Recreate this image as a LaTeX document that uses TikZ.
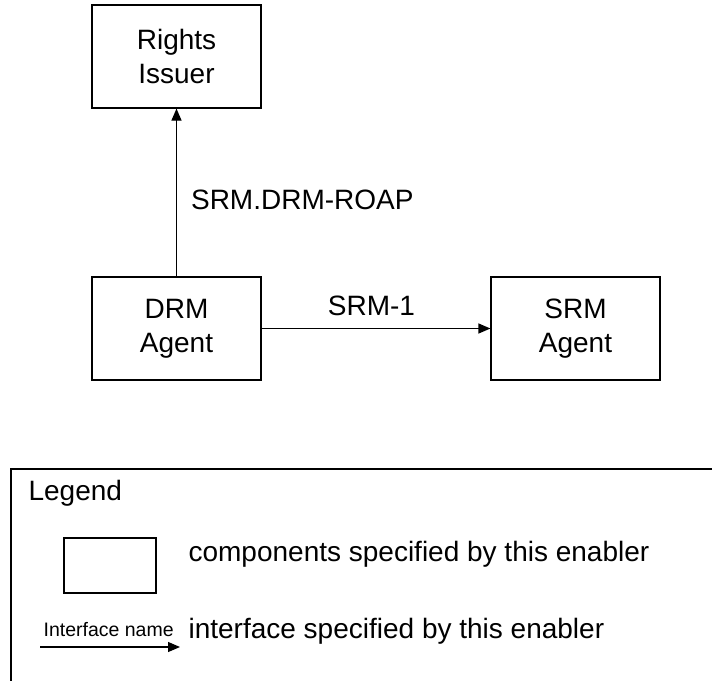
\documentclass[tikz,border=0pt]{standalone}
\usepackage{fontspec}
\setmainfont{Liberation Sans}
\usetikzlibrary{arrows.meta}
\begin{document}
\begin{tikzpicture}[x=1pt,y=-1pt,
  line width=1.2pt,
  comp/.style={draw, minimum width=169pt, minimum height=103pt, align=center, inner sep=0pt,
    font=\fontsize{28}{34}\selectfont},
  lbl/.style={inner sep=0pt, font=\fontsize{28}{34}\selectfont},
  small/.style={inner sep=0pt, font=\fontsize{19.5}{22}\selectfont},
  iface/.style={-{Triangle[length=12pt,width=10pt]}}
]
\useasboundingbox (0,0) rectangle (712,680);
\clip (0,0) rectangle (712,680);
\node[comp] (ri) at (176.5,56.5) {Rights\\Issuer};
\node[comp] (drm) at (176.5,328.5) {DRM\\Agent};
\node[comp] (srm) at (575.5,328.5) {SRM\\Agent};
\draw[iface] (drm.north) -- node[lbl, pos=0.456, anchor=west, xshift=14pt] (l1) {SRM.DRM-ROAP} (ri.south);
\draw[iface] (drm.east) -- node[lbl, pos=0.48, anchor=south, yshift=12pt] (l2) {SRM-1} (srm.west);
% legend
\draw (11,469) rectangle (740,720);
\node[lbl, anchor=base west] (lg) at (28,500) {Legend};
\node[draw, minimum width=92pt, minimum height=55pt, inner sep=0pt] (lbox) at (110,565.5) {};
\node[lbl, anchor=base west] (t1) at (188,561) {components specified by this enabler};
\node[small, anchor=base west] (iname) at (43,636) {Interface name};
\coordinate (la) at (40,647);
\coordinate (lb) at (180,647);
\draw[iface] (la) -- (lb);
\node[lbl, anchor=base west] (t2) at (188,638) {interface specified by this enabler};
\end{tikzpicture}
\end{document}
